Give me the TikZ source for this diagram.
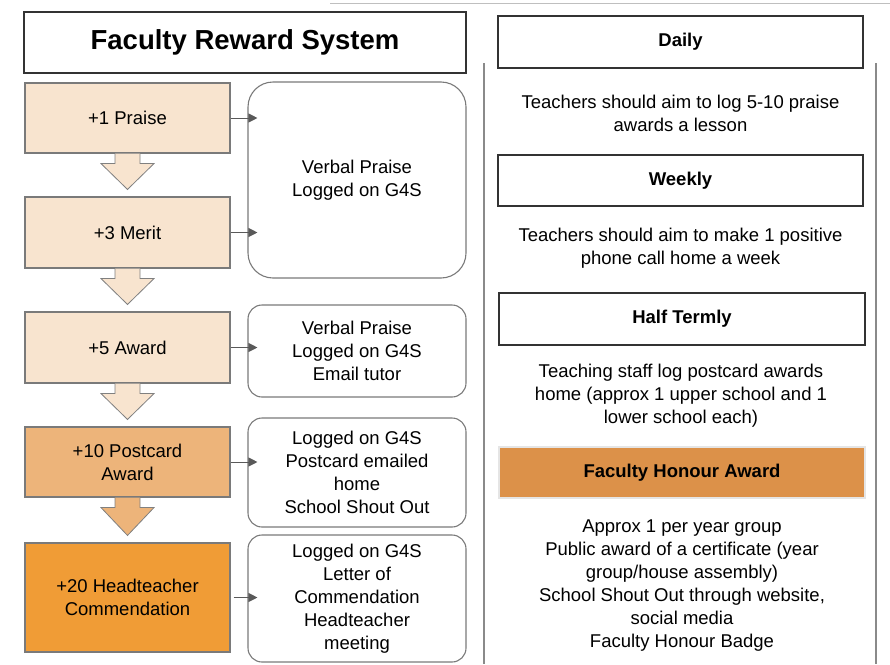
\documentclass[tikz,border=0pt]{standalone}
\usepackage{fontspec}
\setmainfont{Liberation Sans}
\usetikzlibrary{arrows.meta,calc}
\definecolor{peach}{HTML}{F8E4CF}
\definecolor{postcardcol}{HTML}{EDB47A}
\definecolor{headcol}{HTML}{F09C36}
\definecolor{honourcol}{HTML}{DC9149}
\definecolor{edgegray}{HTML}{7A7A7A}
\definecolor{linegray}{HTML}{8A8A8A}
\begin{document}
\begin{tikzpicture}[x=1pt,y=-1pt,
	every node/.style={font=\fontsize{18.5}{23}\selectfont, align=center, inner sep=0pt},
	level/.style={draw=edgegray, line width=1.1pt, minimum width=205pt},
	outcome/.style={draw=edgegray, line width=1.1pt, rounded corners=14pt, minimum width=218pt},
	period/.style={draw=black!80, line width=1.4pt, minimum width=365pt, minimum height=51pt, font=\fontsize{18.5}{23}\selectfont\bfseries},
	link/.style={draw=black!65, line width=1pt, -{Triangle[length=9pt,width=9pt]}}]
	\useasboundingbox (0,0) rectangle (890,664);
	\draw [black!25, line width=0.8pt] (330,3) -- (890,3);
	% left column
	\node [draw=black!80, line width=1.4pt, minimum width=442pt, minimum height=61pt, font=\fontsize{27.5}{30}\selectfont\bfseries] (title) at (245,42.5) {Faculty Reward System};
	\node [level, fill=peach, minimum height=70pt] (praise) at (127.5,118) {+1 Praise};
	\node [level, fill=peach, minimum height=71pt] (merit) at (127.5,232.5) {+3 Merit};
	\node [level, fill=peach, minimum height=71pt] (award) at (127.5,347.5) {+5 Award};
	\node [level, fill=postcardcol, minimum height=70pt] (postcard) at (127.5,462) {+10 Postcard\\Award};
	\node [level, fill=headcol, minimum height=109pt] (head) at (127.5,597.5) {+20 Headteacher\\Commendation};
	\foreach \a/\b/\c in {praise/merit/peach, merit/award/peach, award/postcard/peach, postcard/head/postcardcol}
		\filldraw [fill=\c, draw=black!50, line width=0.8pt]
			($(\a.south)+(-12.5,0)$) -- ($(\a.south)+(-12.5,10)$) -- ($(\a.south)+(-26.5,10)$)
			-- ($(\b.north)+(0,-7)$) -- ($(\a.south)+(26.5,10)$) -- ($(\a.south)+(12.5,10)$)
			-- ($(\a.south)+(12.5,0)$);
	\node [outcome, rounded corners=25pt, minimum height=196pt] (verbal) at (357,180) {Verbal Praise\\Logged on G4S};
	\node [outcome, minimum height=92pt] (email) at (357,351) {Verbal Praise\\Logged on G4S\\Email tutor};
	\node [outcome, minimum height=109pt] (postbox) at (357,472.5) {Logged on G4S\\Postcard emailed\\home\\School Shout Out};
	\node [outcome, minimum height=127pt] (letter) at (357,598.5) {Logged on G4S\\Letter of\\Commendation\\Headteacher\\meeting};
	\draw [link] (praise.east) -- ([xshift=10pt]praise.east -| verbal.west);
	\draw [link] (merit.east) -- ([xshift=10pt]merit.east -| verbal.west);
	\draw [link] (award.east) -- ([xshift=10pt]award.east -| email.west);
	\draw [link] (postcard.east) -- ([xshift=10pt]postcard.east -| postbox.west);
	\draw [link, shorten <=3pt] (head.east) -- ([xshift=10pt]head.east -| letter.west);
	% right column
	\draw [linegray, line width=1.2pt] (484,63) -- (484,664);
	\draw [linegray, line width=1.2pt] (876,63) -- (876,664);
	\node [period, minimum height=52pt] (daily) at (680.5,42) {Daily};
	\node (dailytext) at (680.5,113) {Teachers should aim to log 5-10 praise\\awards a lesson};
	\node [period] (weekly) at (680.5,180.5) {Weekly};
	\node (weeklytext) at (680.5,248.5) {Teachers should aim to make 1 positive\\phone call home a week};
	\node [period, minimum width=366pt, minimum height=52pt] (halftermly) at (682,319) {Half Termly};
	\node (halftext) at (681,396) {Teaching staff log postcard awards\\home (approx 1 upper school and 1\\lower school each)};
	\node [period, minimum width=366pt, draw=black!10, fill=honourcol] (honour) at (682,472.5) {Faculty Honour Award};
	\node (honourtext) at (682,585.5) {Approx 1 per year group\\Public award of a certificate (year\\group/house assembly)\\School Shout Out through website,\\social media\\Faculty Honour Badge};
\end{tikzpicture}
\end{document}
